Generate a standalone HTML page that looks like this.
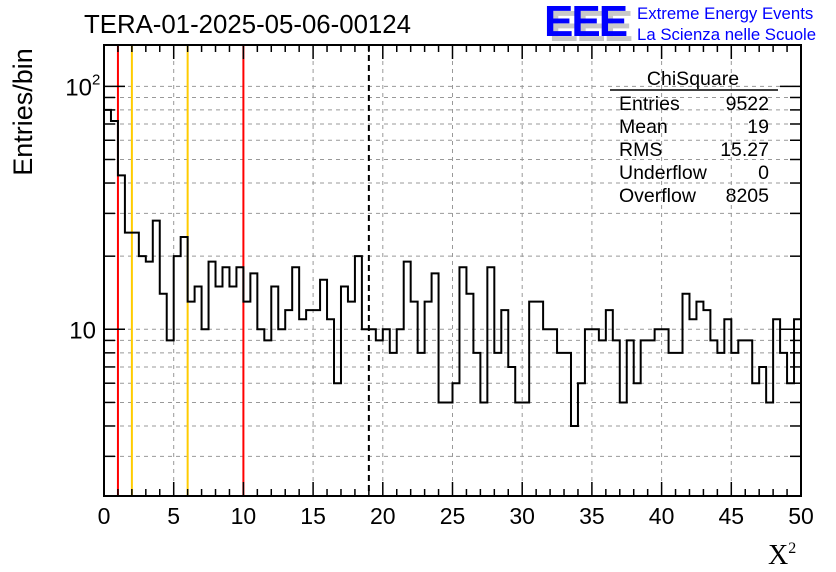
<!DOCTYPE html>
<html><head><meta charset="utf-8"><style>
body{margin:0;background:#fff}
svg{display:block;font-family:"Liberation Sans",sans-serif}
</style></head><body>
<svg id="c" width="836" height="572" xmlns="http://www.w3.org/2000/svg">
<rect width="836" height="572" fill="#fff"/>
<g id="grid"></g>
<g id="marks"></g>
<g id="axes"></g>
<text x="84" y="33" font-size="25.8">TERA-01-2025-05-06-00124</text>
<text transform="translate(32,112) rotate(-90)" text-anchor="middle" font-size="27">Entries/bin</text>
<text x="768" y="564" font-family="Liberation Serif,serif" font-size="28">X<tspan font-size="16" dy="-11">2</tspan></text>
<g>
<text x="549" y="41" font-size="44" font-weight="bold" fill="#c8c8c8" letter-spacing="-2">EEE</text>
<text x="544" y="36" font-size="44" font-weight="bold" fill="#0000ff" letter-spacing="-2">EEE</text>
<text x="637" y="19" font-size="16.8" fill="#0000ff">Extreme Energy Events</text>
<text x="637" y="40" font-size="16.8" fill="#0000ff">La Scienza nelle Scuole</text>
</g>
<g font-size="19.5">
<text x="693" y="85" text-anchor="middle">ChiSquare</text>
<line x1="610" y1="90" x2="778" y2="90" stroke="#000" stroke-width="1.5"/>
<text x="619" y="110">Entries</text><text x="769" y="110" text-anchor="end">9522</text>
<text x="619" y="133">Mean</text><text x="769" y="133" text-anchor="end">19</text>
<text x="619" y="156">RMS</text><text x="769" y="156" text-anchor="end">15.27</text>
<text x="619" y="179">Underflow</text><text x="769" y="179" text-anchor="end">0</text>
<text x="619" y="202">Overflow</text><text x="769" y="202" text-anchor="end">8205</text>
</g>
</svg>
<script>
const counts=[80,72,43,25,25,20,19,28,14,9,20,24,13,15,10,19,15,18,15,18,13,17,10,9,15,10,12,18,11,12,12,16,11,6,15,13,20,10,10,9,10,8,10,19,13,8,13,17,5,5,6,18,14,8,5,18,8,12,7,5,5,13,13,10,10,8,8,4,6,10,10,9,12,9,5,9,6,9,9,10,10,8,8,14,11,13,12,9,8,11,8,9,9,6,7,5,11,8,6,11];
const xMin=0,xMax=50;
const xTicks=[0,5,10,15,20,25,30,35,40,45,50];
const refLines=[1,2,6,10];
const refColors=['#ff0000','#ffcc00','#ffcc00','#ff0000'];
const meanValue=19;
const L=104,R=801,T=45,B=496;
const yLo=2.06,yHi=148;
const NS='http://www.w3.org/2000/svg';
function X(v){return L+(v-xMin)/(xMax-xMin)*(R-L);}
function Y(v){return B-(Math.log10(v)-Math.log10(yLo))/(Math.log10(yHi)-Math.log10(yLo))*(B-T);}
function el(tag,a,p){const e=document.createElementNS(NS,tag);for(const k in a)e.setAttribute(k,a[k]);p.appendChild(e);return e;}
const grid=document.getElementById('grid'),marks=document.getElementById('marks'),axes=document.getElementById('axes');
const ylog=[];for(let d=1;d<=100;d*=10)for(let m=1;m<10;m++){const v=m*d;if(v>=yLo&&v<=yHi)ylog.push(v);}
ylog.forEach(v=>{const g=el('line',{x1:L,x2:R,y1:Y(v),y2:Y(v),stroke:'#999','stroke-dasharray':'4,4'},grid);

});
xTicks.slice(1,-1).forEach(v=>{const g=el('line',{x1:X(v),x2:X(v),y1:T,y2:B,stroke:'#999','stroke-dasharray':'4,4'},grid);

});
refLines.forEach((v,i)=>{const r=el('line',{x1:X(v),x2:X(v),y1:T,y2:B,stroke:refColors[i],'stroke-width':2},marks);

});
const ml=el('line',{x1:X(meanValue),x2:X(meanValue),y1:T,y2:B,stroke:'#000','stroke-width':2,'stroke-dasharray':'6,4'},marks);


const bw=(xMax-xMin)/counts.length;let d='';
counts.forEach((c,i)=>{const x0=X(xMin+i*bw),x1=X(xMin+(i+1)*bw),y=Y(c);d+=(i===0?'M'+x0+','+y:'L'+x0+','+y)+'L'+x1+','+y;});
const h=el('path',{d:d,fill:'none',stroke:'#000','stroke-width':2},marks);


const fr=el('rect',{x:L,y:T,width:R-L,height:B-T,fill:'none',stroke:'#000','stroke-width':2},axes);


for(let v=xMin;v<=xMax;v++){const len=v%5===0?14:7;
el('line',{x1:X(v),x2:X(v),y1:B,y2:B-len,stroke:'#000','stroke-width':1.5},axes);
el('line',{x1:X(v),x2:X(v),y1:T,y2:T+len,stroke:'#000','stroke-width':1.5},axes);}
xTicks.forEach(v=>{const t=el('text',{x:X(v),y:524,'text-anchor':'middle','font-size':23},axes);t.textContent=v;

});
ylog.forEach(v=>{const maj=(v===10||v===100);const len=maj?21:11;
el('line',{x1:L,x2:L+len,y1:Y(v),y2:Y(v),stroke:'#000','stroke-width':1.5},axes);
el('line',{x1:R,x2:R-len,y1:Y(v),y2:Y(v),stroke:'#000','stroke-width':1.5},axes);});
const t1=el('text',{x:96,y:Y(10)+9,'text-anchor':'end','font-size':24},axes);t1.textContent='10';


const t2=el('text',{x:92,y:Y(100)+9,'text-anchor':'end','font-size':24},axes);t2.textContent='10';


const t3=el('text',{x:92,y:Y(100)-2,'font-size':15},axes);t3.textContent='2';


</script>
</body></html>
